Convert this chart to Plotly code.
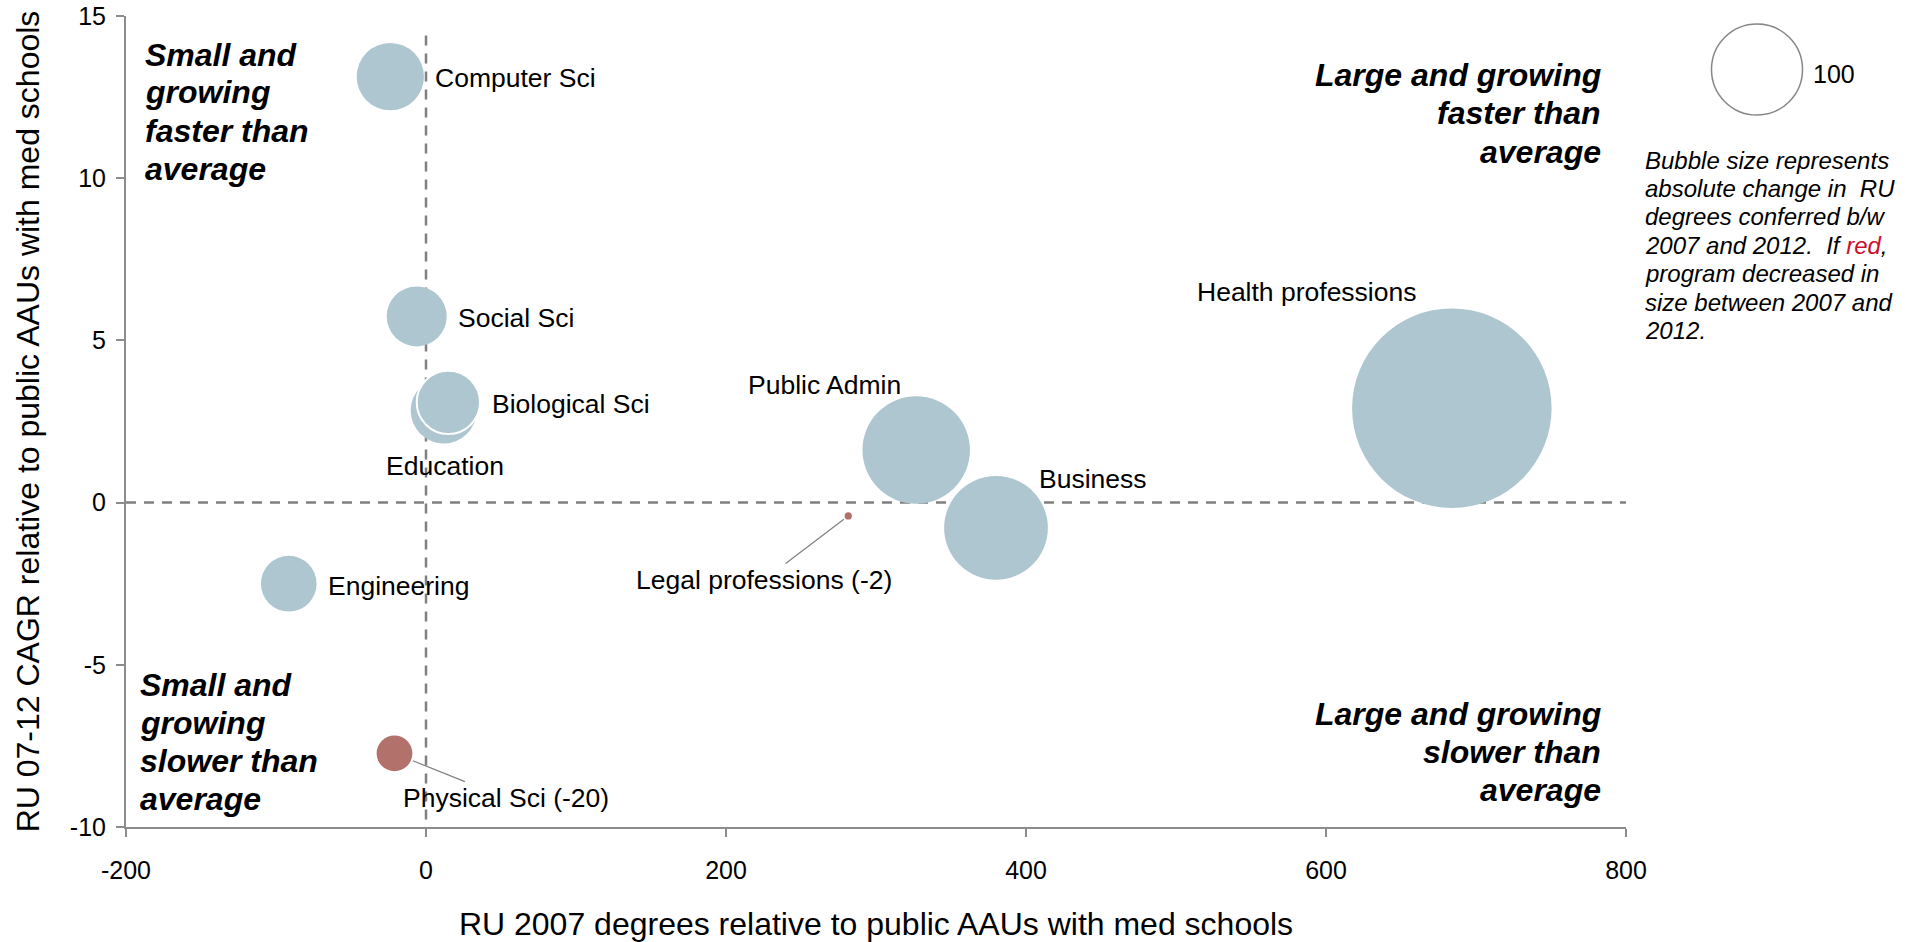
import plotly.graph_objects as go

# ---------------- data ----------------
programs = ["Computer Sci", "Social Sci", "Education", "Biological Sci", "Public Admin",
            "Business", "Legal professions (-2)", "Engineering", "Physical Sci (-20)",
            "Health professions"]
degrees_2007_rel = [-23.8, -6.2, 11.8, 14.9, 326.8, 380.0, 281.5, -91.5, -21.0, 683.9]
cagr_rel = [13.13, 5.74, 2.84, 3.09, 1.62, -0.78, -0.41, -2.50, -7.73, 2.91]
abs_change = [54.7, 43.5, 52.6, 48.4, 139.5, 129.9, 0.64, 37.5, 15.4, 480.6]
decreased = [False, False, False, False, False, False, True, False, True, False]

x_ticks = [-200, 0, 200, 400, 600, 800]
x_ticktext = ["-200", "0", "200", "400", "600", "800"]
y_ticks = [-10, -5, 0, 5, 10, 15]
y_ticktext = ["-10", "-5", "0", "5", "10", "15"]
legend_size_value = [100]

quad_ul = ["Small and", "growing", "faster than", "average"]
quad_ll = ["Small and", "growing", "slower than", "average"]
quad_ur = ["Large and growing", "faster than", "average"]
quad_lr = ["Large and growing", "slower than", "average"]
note_lines = ["Bubble size represents", "absolute change in  RU", "degrees conferred b/w",
              "2007 and 2012.  If <span style='color:#C8102E'>red</span>,",
              "program decreased in", "size between 2007 and", "2012."]

# ---------------- styles ----------------
FONT = "Liberation Sans, Arial, sans-serif"
BLUE = "#ADC6CF"
RED = "#B2716A"
AXIS_GRAY = "#8C8C8C"
DASH_GRAY = "#808080"
W, H = 1910, 942
ML, MR, MT, MB = 126, 0, 16, 115
PLOT_W = 1500
PAPER_W = W - ML - MR
PAPER_H = H - MT - MB
LEGEND_PX = 91.0
SIZEREF = 2.0 * 100 / LEGEND_PX ** 2
LABEL_SIZE = 26.5
QUAD_SIZE = 32


def px_x(p):
    return (p - ML) / PAPER_W


def px_y(p):
    return (H - MB - p) / PAPER_H


colors = [RED if d else BLUE for d in decreased]
line_widths = [2 if p == "Biological Sci" else 0 for p in programs]

fig = go.Figure()
fig.add_trace(go.Scatter(
    x=degrees_2007_rel, y=cagr_rel, mode="markers",
    marker=dict(size=abs_change, sizemode="area", sizeref=SIZEREF, color=colors,
                opacity=1, line=dict(color="white", width=line_widths)),
    cliponaxis=False, hoverinfo="text", text=programs, showlegend=False,
))

# legend bubble on its own tiny axis
fig.add_trace(go.Scatter(
    x=[0], y=[0], mode="markers", xaxis="x2", yaxis="y2",
    marker=dict(size=legend_size_value, sizemode="area", sizeref=SIZEREF,
                color="rgba(255,255,255,0)", line=dict(color="#555555", width=1.5)),
    cliponaxis=False, hoverinfo="skip", showlegend=False,
))

# label placement (pixel offsets from bubble centers)
label_style = {
    "Computer Sci": dict(xanchor="left", xshift=43, yshift=-1.5),
    "Social Sci": dict(xanchor="left", xshift=39, yshift=-1.5),
    "Education": dict(xanchor="center", xshift=1.3, yshift=-56),
    "Biological Sci": dict(xanchor="left", xshift=42, yshift=-2),
    "Public Admin": dict(xanchor="center", xshift=-91.5, yshift=65),
    "Business": dict(xanchor="left", xshift=41, yshift=49.4),
    "Engineering": dict(xanchor="left", xshift=37.5, yshift=-2.7),
    "Health professions": dict(xanchor="center", xshift=-145.8, yshift=116.5),
}
arrow_style = {
    "Legal professions (-2)": dict(ax=-84.3, ay=64.1, standoff=5.5),
    "Physical Sci (-20)": dict(ax=111.5, ay=44.8, standoff=19.8),
}

annotations = []
for name, xv, yv in zip(programs, degrees_2007_rel, cagr_rel):
    if name in label_style:
        annotations.append(dict(x=xv, y=yv, xref="x", yref="y", text=name, showarrow=False,
                                yanchor="middle",
                                font=dict(family=FONT, size=LABEL_SIZE, color="black"),
                                **label_style[name]))
    else:
        annotations.append(dict(x=xv, y=yv, xref="x", yref="y", text=name, showarrow=True,
                                arrowhead=0, arrowwidth=1.2, arrowcolor=DASH_GRAY,
                                axref="pixel", ayref="pixel",
                                font=dict(family=FONT, size=LABEL_SIZE, color="black"),
                                **arrow_style[name]))


def text_block(lines, x_px, first_y_px, spacing, anchor, size, fmt):
    out = []
    for i, ln in enumerate(lines):
        out.append(dict(xref="paper", yref="paper", x=px_x(x_px),
                        y=px_y(first_y_px + i * spacing), xanchor=anchor, yanchor="middle",
                        showarrow=False, font=dict(family=FONT, size=size, color="black"),
                        text=fmt.format(ln)))
    return out


BI = "<b><i>{}</i></b>"
annotations += text_block(quad_ul, 143, 54.5, 38, "left", QUAD_SIZE, BI)
annotations += text_block(quad_ll, 138, 684.5, 38, "left", QUAD_SIZE, BI)
annotations += text_block(quad_ur, 1603, 74.5, 38.5, "right", QUAD_SIZE, BI)
annotations += text_block(quad_lr, 1603, 713.5, 38, "right", QUAD_SIZE, BI)
annotations += text_block(note_lines, 1643, 160, 28.4, "left", 24, "<i>{}</i>")
annotations.append(dict(xref="paper", yref="paper", x=px_x(1811), y=px_y(74), xanchor="left",
                        yanchor="middle", showarrow=False,
                        font=dict(family=FONT, size=25, color="black"), text="100"))

shapes = [
    dict(type="line", xref="x", yref="y", x0=-200, x1=800, y0=0, y1=0,
         line=dict(color=DASH_GRAY, width=2.5, dash="10px,8px"), layer="below"),
    dict(type="line", xref="x", yref="y", x0=0, x1=0, y0=14.4, y1=-10,
         line=dict(color=DASH_GRAY, width=2.5, dash="10px,8px"), layer="below"),
]

lx = px_x(1757)
ly = px_y(69.5)
fig.update_layout(
    width=W, height=H, autosize=False,
    margin=dict(l=ML, r=MR, t=MT, b=MB, pad=0, autoexpand=False),
    paper_bgcolor="white", plot_bgcolor="white",
    font=dict(family=FONT, color="black"),
    xaxis=dict(domain=[0, PLOT_W / PAPER_W], range=[-200, 800], showgrid=False, zeroline=False,
               showline=True, linecolor=AXIS_GRAY, linewidth=2, ticks="outside", ticklen=8,
               tickwidth=2, tickcolor=AXIS_GRAY, tickvals=x_ticks, ticktext=x_ticktext,
               tickfont=dict(size=25, color="black"), ticklabelstandoff=12,
               automargin=False,
               title=dict(text="RU 2007 degrees relative to public AAUs with med schools",
                          font=dict(size=32, color="black"), standoff=30)),
    yaxis=dict(range=[-10, 15], showgrid=False, zeroline=False,
               showline=True, linecolor=AXIS_GRAY, linewidth=2, ticks="outside", ticklen=8,
               tickwidth=2, tickcolor=AXIS_GRAY, tickvals=y_ticks, ticktext=y_ticktext,
               tickfont=dict(size=25, color="black"), ticklabelstandoff=5,
               automargin=False,
               title=dict(text="RU 07-12 CAGR relative to public AAUs with med schools",
                          font=dict(size=32, color="black"), standoff=21)),
    xaxis2=dict(domain=[lx - 0.01, lx + 0.01], range=[-1, 1], visible=False, anchor="y2",
                automargin=False),
    yaxis2=dict(domain=[ly - 0.01, ly + 0.01], range=[-1, 1], visible=False, anchor="x2",
                automargin=False),
    annotations=annotations, shapes=shapes, showlegend=False,
)

post = "document.body.style.margin='0';document.body.style.overflow='hidden';"
fig.write_html("out.html", config={"displayModeBar": False, "responsive": False},
               post_script=post)
